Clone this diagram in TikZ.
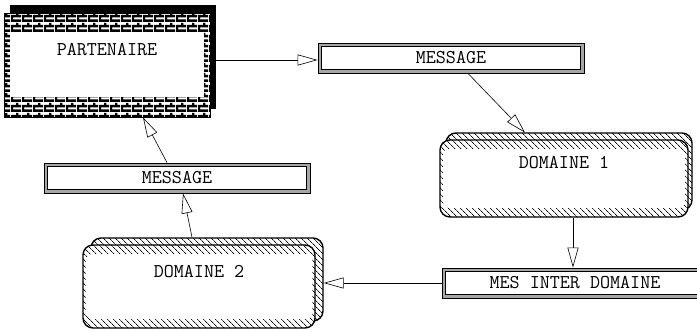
\documentclass[tikz,border=0pt]{standalone}
\usetikzlibrary{arrows.meta,patterns,patterns.meta,calc,shadows}
\pgfdeclarepatternformonly{brickwall}{\pgfpointorigin}{\pgfpoint{11pt}{10pt}}{\pgfpoint{11pt}{10pt}}{%
  \pgfpathrectangle{\pgfpointorigin}{\pgfpoint{11pt}{2.8pt}}%
  \pgfpathrectangle{\pgfpoint{0pt}{5pt}}{\pgfpoint{11pt}{2.8pt}}%
  \pgfpathrectangle{\pgfpoint{0pt}{0pt}}{\pgfpoint{2.4pt}{5pt}}%
  \pgfpathrectangle{\pgfpoint{5.5pt}{5pt}}{\pgfpoint{2.4pt}{5pt}}%
  \pgfusepath{fill}}
\tikzset{
  txt/.style={font=\ttfamily\fontsize{19.5}{22}\selectfont, inner sep=0pt},
  partbox/.style={general shadow={fill=black, shadow xshift=6pt, shadow yshift=8pt},
    preaction={fill=white},
    draw, line width=0.8pt, pattern=brickwall, pattern color=black,
    minimum width=206pt, minimum height=104pt, inner sep=0pt,
    path picture={\fill[white] ($(path picture bounding box.south west)+(6pt,20pt)$) rectangle ($(path picture bounding box.north east)+(-6pt,-19pt)$);}},
  msgbox/.style={draw, line width=0.8pt, fill=black!35, minimum width=266pt, minimum height=30pt, inner sep=0pt,
    txt,
    path picture={\filldraw[white, draw=black, line width=0.4pt] ($(path picture bounding box.south west)+(3.5pt,3.5pt)$) rectangle ($(path picture bounding box.north east)+(-3.5pt,-3.5pt)$);}},
  domback/.style={preaction={fill=white}, draw, line width=1.4pt, rounded corners=10pt,
    pattern={Lines[angle=-45,distance=4pt,line width=0.8pt]},
    inner sep=0pt},
  domfront/.style={domback,
    path picture={\fill[white, rounded corners=6pt] ($(path picture bounding box.south west)+(3pt,9pt)$) rectangle ($(path picture bounding box.north east)+(-3pt,-9pt)$);}},
  conn/.style={line width=0.6pt, -{Triangle[length=20pt,width=11pt,fill=white,line width=0.6pt]}},
}
\begin{document}
\begin{tikzpicture}[x=1pt,y=-1pt]
\useasboundingbox (0,0) rectangle (697,332);
\clip (0,0) rectangle (697,332);
% partner
\node[partbox, label={[txt,name=partlbl,yshift=15pt]center:PARTENAIRE}] (part) at (107,65) {};
% message boxes
\node[msgbox] (msgA) at (451,58) {MESSAGE};
\node[msgbox] (msgB) at (177,178) {MESSAGE};
\node[msgbox] (mis) at (575,283) {MES INTER DOMAINE};
% domains
\node[domback, minimum width=246pt, minimum height=77pt] (dom1back) at (569,171.5) {};
\node[domfront, minimum width=248pt, minimum height=77pt, label={[txt,name=dom1lbl,yshift=15.5pt]center:DOMAINE 1}] (dom1) at (564,178.5) {};
\node[domback, minimum width=232pt, minimum height=83pt] (dom2back) at (207,279.5) {};
\node[domfront, minimum width=232pt, minimum height=83pt, label={[txt,name=dom2lbl,yshift=14.5pt]center:DOMAINE 2}] (dom2) at (199,286.5) {};
% connectors
\coordinate (a1) at ([yshift=-2pt]msgA.west);
\draw[conn] (part.east |- a1) -- (a1);
\draw[conn] ([xshift=17pt]msgA.south) -- ([xshift=-44pt]dom1back.north);
\coordinate (a3) at ([xshift=9pt]dom1.south);
\draw[conn] (a3) -- (mis.north -| a3);
\draw[conn] (mis.west) -- (dom2back.east |- mis.west);
\draw[conn] ([xshift=-15pt]dom2back.north) -- ([xshift=6pt]msgB.south);
\draw[conn] ([xshift=-10pt]msgB.north) -- ([xshift=36pt]part.south);
\end{tikzpicture}
\end{document}
